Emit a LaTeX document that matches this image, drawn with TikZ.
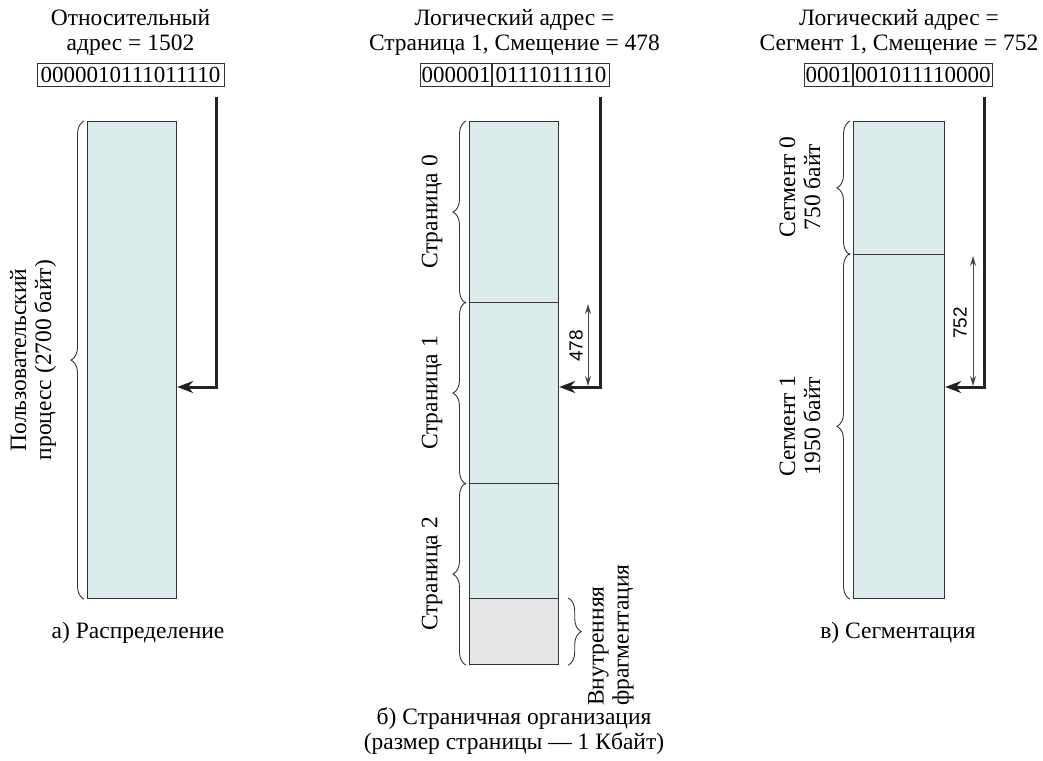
\documentclass[tikz,border=0pt]{standalone}
\usepackage{fontspec}
\setmainfont{Liberation Serif}
\newfontfamily\dimfont{Liberation Sans}
\usetikzlibrary{decorations.pathreplacing,arrows.meta}
\definecolor{memfill}{HTML}{DCEBEB}
\definecolor{fragfill}{HTML}{E5E5E7}
\definecolor{linec}{HTML}{333333}
\definecolor{arrowc}{HTML}{222222}
\definecolor{dimc}{HTML}{444444}
\begin{document}
\begin{tikzpicture}[x=1pt,y=-1pt,
  txt/.style={font=\fontsize{23.5}{25}\selectfont, inner sep=0pt, align=center},
  bits/.style={draw=linec, line width=0.8pt, font=\fontsize{23}{24}\selectfont, inner xsep=0pt, inner ysep=0pt, minimum height=23pt},
  mem/.style={draw=linec, line width=1.2pt, fill=memfill, inner sep=0pt, anchor=north west},
  bracestyle/.style={draw=linec, line width=0.9pt, decorate, decoration={brace, amplitude=13pt}},
  mainarrow/.style={draw=arrowc, line width=3pt, line join=miter, -{Stealth[length=16pt,width=12pt]}},
  dimarrow/.style={draw=dimc, line width=1pt, {Stealth[length=10pt,width=6pt]}-{Stealth[length=10pt,width=6pt]}},
  dimlabel/.style={font=\dimfont\fontsize{19}{21}\selectfont, rotate=90, inner sep=0pt}]
\useasboundingbox (0,0) rectangle (1043,760);

% ---------- panel a ----------
\node[txt] (titA) at (130.5,32) {Относительный\\адрес = 1502};
\node[bits, minimum width=187pt] (addrA) at (130.5,74.5) {0000010111011110};
\node[mem, minimum width=89pt, minimum height=477pt] (procA) at (87,121) {};
\draw[bracestyle] ([xshift=-3pt]procA.south west) -- ([xshift=-3pt]procA.north west);
\node[txt, rotate=90] (lblA) at (33,360) {Пользовательский\\процесс (2700 байт)};
\coordinate (srcA) at (216,97);
\coordinate (yA) at (0,387);
\draw[mainarrow] (srcA) |- (procA.east |- yA);
\node[txt] (capA) at (138,633) {а) Распределение};

% ---------- panel b ----------
\node[txt] (titB) at (514.5,32) {Логический адрес =\\Страница 1, Смещение = 478};
\node[bits, minimum width=71pt, anchor=east] (pageno) at (492,74.5) {000001};
\node[bits, minimum width=117pt, anchor=west] (offB) at (pageno.east) {0111011110};
\node[mem, minimum width=89pt, minimum height=181pt] (pg0) at (469,121) {};
\node[mem, minimum width=89pt, minimum height=181pt] (pg1) at (469,302) {};
\node[mem, minimum width=89pt, minimum height=115pt] (pg2) at (469,483) {};
\node[mem, fill=fragfill, minimum width=89pt, minimum height=66pt] (frag) at (469,598) {};
\draw[bracestyle] ([xshift=-3pt]pg0.south west) -- ([xshift=-3pt]pg0.north west);
\draw[bracestyle] ([xshift=-3pt]pg1.south west) -- ([xshift=-3pt]pg1.north west);
\draw[bracestyle] ([xshift=-3pt]frag.south west) -- ([xshift=-3pt]pg2.north west);
\draw[bracestyle] ([xshift=9pt]frag.north east) -- ([xshift=9pt]frag.south east);
\node[txt, rotate=90] (lblP0) at (432,212) {Страница 0};
\node[txt, rotate=90] (lblP1) at (432,393) {Страница 1};
\node[txt, rotate=90] (lblP2) at (432,574) {Страница 2};
\node[txt, rotate=90, anchor=west, align=left] (fragLbl) at (611,706) {Внутренняя\\фрагментация};
\coordinate (srcB) at (600,97);
\coordinate (yB) at (0,387);
\draw[mainarrow] (srcB) |- (pg1.east |- yB);
\coordinate (dB1) at (588,304);
\coordinate (dB2) at (588,386);
\draw[dimarrow] (dB1) -- (dB2);
\node[dimlabel] (d478) at (576,346) {478};
\node[txt] (capB) at (514,731) {б) Страничная организация\\(размер страницы — 1 Кбайт)};

% ---------- panel c ----------
\node[txt] (titC) at (899,32) {Логический адрес =\\Сегмент 1, Смещение = 752};
\node[bits, minimum width=48pt, anchor=east] (segno) at (853,74.5) {0001};
\node[bits, minimum width=139pt, anchor=west] (offC) at (segno.east) {001011110000};
\node[mem, minimum width=91pt, minimum height=132.5pt] (sg0) at (853,121) {};
\node[mem, minimum width=91pt, minimum height=344.5pt] (sg1) at (853,253.5) {};
\draw[bracestyle] ([xshift=-3pt]sg0.south west) -- ([xshift=-3pt]sg0.north west);
\draw[bracestyle] ([xshift=-3pt]sg1.south west) -- ([xshift=-3pt]sg1.north west);
\node[txt, rotate=90] (lblS0) at (800,187) {Сегмент 0\\750 байт};
\node[txt, rotate=90] (lblS1) at (800,426) {Сегмент 1\\1950 байт};
\coordinate (srcC) at (984,97);
\coordinate (yC) at (0,387);
\draw[mainarrow] (srcC) |- (sg1.east |- yC);
\coordinate (dC1) at (973,256);
\coordinate (dC2) at (973,386);
\draw[dimarrow] (dC1) -- (dC2);
\node[dimlabel] (d752) at (960,323) {752};
\node[txt] (capC) at (898,633) {в) Сегментация};
\end{tikzpicture}
\end{document}
